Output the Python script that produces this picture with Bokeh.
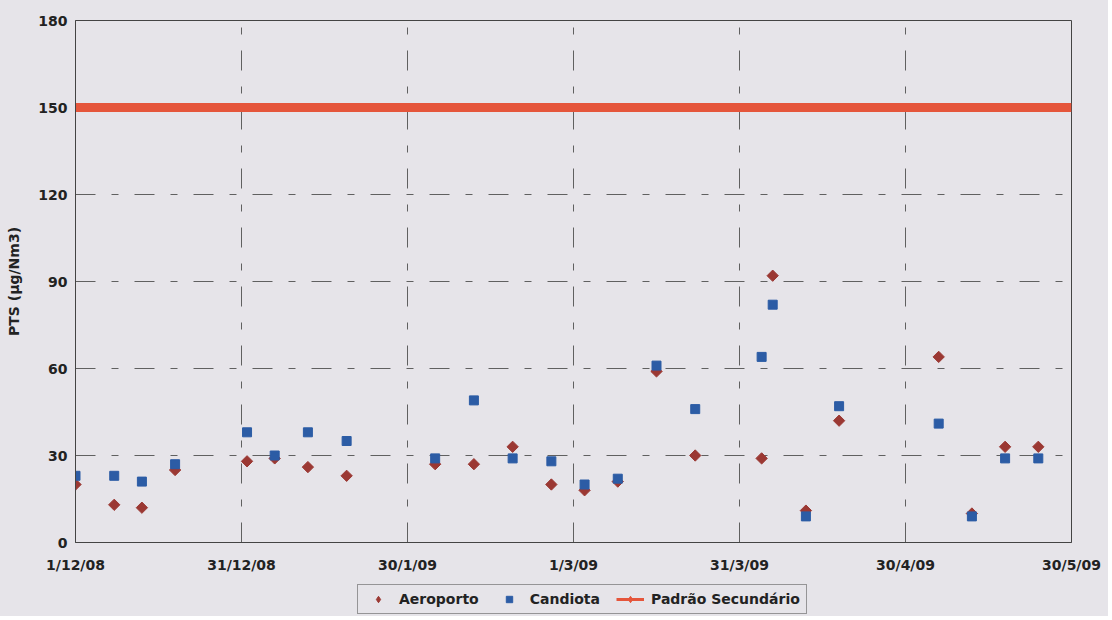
import numpy as np
import pandas as pd
from bokeh.plotting import figure
from bokeh.layouts import column
from bokeh.models import Range1d, FixedTicker, Legend, LegendItem
from bokeh.embed import file_html
from bokeh.resources import INLINE

# ---- data ----
dates = ["2008-12-01", "2008-12-08", "2008-12-13", "2008-12-19",
         "2009-01-01", "2009-01-06", "2009-01-12", "2009-01-19",
         "2009-02-04", "2009-02-11", "2009-02-18", "2009-02-25",
         "2009-03-03", "2009-03-09", "2009-03-16", "2009-03-23",
         "2009-04-04", "2009-04-06", "2009-04-12", "2009-04-18",
         "2009-05-06", "2009-05-12", "2009-05-18", "2009-05-24"]
aeroporto = [20, 13, 12, 25, 28, 29, 26, 23,
             27, 27, 33, 20, 18, 21, 59, 30,
             29, 92, 11, 42, 64, 10, 33, 33]
candiota = [23, 23, 21, 27, 38, 30, 38, 35,
            29, 49, 29, 28, 20, 22, 61, 46,
            64, 82, 9, 47, 41, 9, 29, 29]
tick_dates = ["2008-12-01", "2008-12-31", "2009-01-30", "2009-03-01",
              "2009-03-31", "2009-04-30", "2009-05-30"]
tick_labels = ["1/12/08", "31/12/08", "30/1/09", "1/3/09",
               "31/3/09", "30/4/09", "30/5/09"]
y_ticks = [0, 30, 60, 90, 120, 150, 180]
padrao_secundario = 150
series_names = ["Aeroporto", "Candiota", "Padrão Secundário"]

# ---- derived ----
start = pd.Timestamp(tick_dates[0])
def to_days(ds):
    return [(pd.Timestamp(d) - start).days for d in ds]

x = to_days(dates)
xt = to_days(tick_dates)

BG = "#e6e4e9"
FONT = "DejaVu Sans"
GRID = "#606060"
TXT = "#222222"
C_A = "#9b3833"
C_C = "#2c5ca5"
C_P = "#e5553b"
W = 1108

p = figure(width=W, height=578, output_backend="svg", toolbar_location=None,
           x_range=Range1d(xt[0], xt[-1]), y_range=Range1d(y_ticks[0], y_ticks[-1]),
           min_border_left=75, min_border_right=37, min_border_top=20,
           min_border_bottom=36)
p.background_fill_color = BG
p.border_fill_color = BG
p.outline_line_color = "#444444"
p.outline_line_width = 1

# axes
p.xaxis.ticker = FixedTicker(ticks=xt)
p.xaxis.major_label_overrides = {t: l for t, l in zip(xt, tick_labels)}
p.yaxis.ticker = FixedTicker(ticks=y_ticks)
p.yaxis.axis_label = "PTS (µg/Nm3)"
for ax in (p.xaxis[0], p.yaxis[0]):
    ax.major_tick_in = 0
    ax.major_tick_out = 0
    ax.minor_tick_in = 0
    ax.minor_tick_out = 0
    ax.axis_line_color = "#444444"
    ax.major_label_text_font = FONT
    ax.major_label_text_font_style = "bold"
    ax.major_label_text_font_size = "14px"
    ax.major_label_text_color = TXT
p.xaxis.major_label_standoff = 14
p.yaxis.major_label_standoff = 8
p.yaxis.axis_label_text_font = FONT
p.yaxis.axis_label_text_font_style = "bold"
p.yaxis.axis_label_text_font_size = "14px"
p.yaxis.axis_label_text_color = TXT
p.yaxis.axis_label_standoff = 13

# grids
for g in (p.xgrid[0], p.ygrid[0]):
    g.grid_line_color = GRID
    g.grid_line_width = 1
    g.grid_line_dash = "20 16 7 16"

# red reference line
p.line(x=[xt[0], xt[-1]], y=[padrao_secundario, padrao_secundario],
       line_color=C_P, line_width=9)

# series
p.scatter(x=x, y=aeroporto, marker="square", angle=np.pi / 4, size=8,
          fill_color=C_A, line_color=C_A)
p.scatter(x=x, y=candiota, marker="square", size=9,
          fill_color=C_C, line_color=C_C)

# ---- legend strip (separate small figure below the chart) ----
lf = figure(width=W, height=38, output_backend="svg", toolbar_location=None,
            x_range=Range1d(0, 1), y_range=Range1d(0, 1), min_border=0,
            x_axis_location=None, y_axis_location=None)
lf.grid.visible = False
lf.outline_line_color = None
lf.background_fill_color = BG
lf.border_fill_color = BG

nan = [np.nan]
prox_a = lf.scatter(x=nan, y=nan, marker="diamond", size=13,
                    fill_color=C_A, line_color=C_A)
prox_c = lf.scatter(x=nan, y=nan, marker="square", size=7,
                    fill_color=C_C, line_color=C_C)
prox_l = lf.line(x=[np.nan, np.nan], y=[np.nan, np.nan], line_color=C_P, line_width=3)
prox_m = lf.scatter(x=nan, y=nan, marker="diamond", size=9,
                    fill_color=C_P, line_color=C_P)

legend = Legend(items=[LegendItem(label=series_names[0], renderers=[prox_a]),
                       LegendItem(label=series_names[1], renderers=[prox_c]),
                       LegendItem(label=series_names[2], renderers=[prox_l, prox_m])],
                orientation="horizontal", location=(282, 2),
                label_text_font=FONT, label_text_font_style="bold",
                label_text_font_size="14px", label_text_color=TXT,
                border_line_color="#444444", border_line_width=1,
                background_fill_color=BG, background_fill_alpha=1.0,
                padding=6, spacing=16, glyph_width=28, glyph_height=16,
                label_standoff=7, margin=0, label_height=16)
lf.add_layout(legend, "center")

layout = column(p, lf, spacing=0)
layout.styles = {"background-color": BG}

open("out.html", "w").write(file_html(layout, INLINE))
